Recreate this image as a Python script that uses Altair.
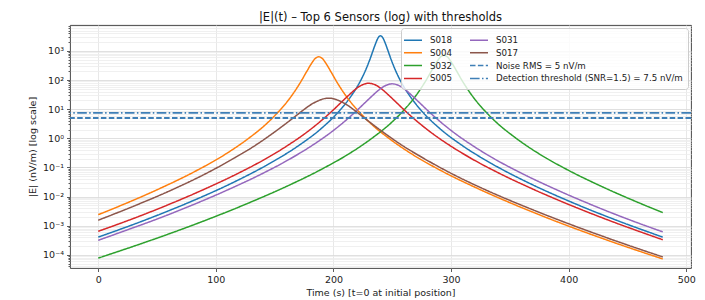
import altair as alt
import pandas as pd

# ---------------- data ----------------
S018_t = [0, 40, 80, 115, 145, 170, 190, 205, 215, 222, 227, 231, 234, 236, 238, 240, 242, 244, 246, 249, 253, 258, 265, 275, 290, 310, 335, 365, 400, 440, 480]
S018_v = [4.07e-4, 1.58e-3, 7.08e-3, 0.0309, 0.132, 0.550, 2.24, 8.71, 28.2, 79.4, 204, 513, 1122, 1862, 2818, 3311, 2818, 1862, 1122, 513, 204, 79.4, 28.2, 8.71, 2.24, 0.550, 0.132, 0.0309, 7.08e-3, 1.58e-3, 4.07e-4]

S004_t = [0, 22.5, 52.5, 82.5, 107.5, 127.5, 142.5, 152.5, 160.5, 167.5, 172.5, 177.5, 181.5, 184.5, 187.5, 190.5, 193.5, 197.5, 202.5, 207.5, 214.5, 222.5, 232.5, 247.5, 267.5, 292.5, 322.5, 352.5, 387.5, 437.5, 480]
S004_v = [2.40e-3, 5.62e-3, 0.0191, 0.0741, 0.275, 0.977, 3.02, 7.59, 17.8, 43.7, 91.2, 204, 380, 550, 631, 550, 380, 204, 91.2, 43.7, 17.8, 7.59, 3.02, 0.977, 0.275, 0.0741, 0.0191, 5.62e-3, 1.51e-3, 2.75e-4, 7.24e-5]

S032_t = [0, 44, 79, 94, 129, 159, 189, 214, 234, 249, 259, 267, 274, 279, 284, 288, 291, 294, 297, 300, 304, 309, 314, 321, 329, 339, 354, 374, 399, 429, 459, 480]
S032_v = [7.76e-5, 3.09e-4, 1.0e-3, 1.70e-3, 6.31e-3, 0.0214, 0.0832, 0.309, 1.10, 3.39, 8.51, 20.0, 49.0, 102, 229, 427, 617, 708, 617, 427, 229, 102, 49.0, 20.0, 8.51, 3.39, 1.10, 0.309, 0.0832, 0.0214, 6.31e-3, 2.82e-3]

S005_t = [0, 30, 60, 90, 118, 142, 162, 178, 190, 200, 207, 213, 218, 222, 226, 230, 234, 238, 242, 247, 253, 260, 270, 282, 298, 318, 342, 370, 400, 430, 480]
S005_v = [6.46e-4, 1.78e-3, 5.37e-3, 0.0178, 0.0603, 0.195, 0.603, 1.70, 4.17, 9.55, 17.8, 30.2, 45.7, 60.3, 72.4, 77.6, 72.4, 60.3, 45.7, 30.2, 17.8, 9.55, 4.17, 1.70, 0.603, 0.195, 0.0603, 0.0178, 5.37e-3, 1.78e-3, 3.31e-4]

S031_t = [0, 20, 50, 80, 110, 138, 162, 182, 198, 210, 220, 227, 233, 238, 242, 246, 250, 254, 258, 262, 267, 273, 280, 290, 302, 318, 338, 362, 390, 420, 450, 480]
S031_v = [3.16e-4, 6.17e-4, 1.70e-3, 5.13e-3, 0.0170, 0.0575, 0.186, 0.575, 1.62, 3.98, 9.12, 17.0, 28.8, 43.7, 57.5, 69.2, 74.1, 69.2, 57.5, 43.7, 28.8, 17.0, 9.12, 3.98, 1.62, 0.575, 0.186, 0.0575, 0.0170, 5.13e-3, 1.70e-3, 6.17e-4]

S017_t = [0, 30, 62, 92, 116, 134, 148, 159, 168, 175, 181, 186, 191, 196, 201, 206, 211, 217, 224, 233, 244, 258, 276, 300, 330, 362, 400, 440, 480]
S017_v = [1.55e-3, 4.68e-3, 0.0166, 0.0631, 0.214, 0.589, 1.45, 3.09, 5.89, 9.77, 14.5, 18.6, 22.4, 24.0, 22.4, 18.6, 14.5, 9.77, 5.89, 3.09, 1.45, 0.589, 0.214, 0.0631, 0.0166, 4.68e-3, 1.17e-3, 3.02e-4, 8.51e-5]

sensor_names = ["S018", "S004", "S032", "S005", "S031", "S017"]
sensor_series = [(S018_t, S018_v), (S004_t, S004_v), (S032_t, S032_v),
                 (S005_t, S005_v), (S031_t, S031_v), (S017_t, S017_v)]

noise_label = "Noise RMS = 5 nV/m"
detect_label = "Detection threshold (SNR=1.5) = 7.5 nV/m"
threshold_labels = [noise_label, detect_label]
threshold_values = [5.0, 7.5]

x_ticks = [0, 100, 200, 300, 400, 500]

# ---------------- styling ----------------
color_of = {"S018": "#1f77b4", "S004": "#ff7f0e", "S032": "#2ca02c", "S005": "#d62728",
            "S031": "#9467bd", "S017": "#8c564b", noise_label: "#3f7fb6", detect_label: "#3f7fb6"}
dash_of = {"S018": [1, 0], "S004": [1, 0], "S032": [1, 0], "S005": [1, 0],
           "S031": [1, 0], "S017": [1, 0], noise_label: [5.5, 2.4], detect_label: [9.6, 2.4, 1.5, 2.4]}

legend_order = sensor_names + threshold_labels
legend_colors = [color_of[k] for k in legend_order]
legend_dashes = [dash_of[k] for k in legend_order]

rows = []
for name, (ts, vs) in zip(sensor_names, sensor_series):
    for t, v in zip(ts, vs):
        rows.append({"label": name, "t": t, "v": v})
lines_df = pd.DataFrame(rows)
thr_df = pd.DataFrame({"label": threshold_labels, "v": threshold_values})

y_min, y_max = 3.55e-5, 7760
y_ticks = []
for k in range(-5, 4):
    for m in range(1, 10):
        val = m * 10.0 ** k
        if y_min <= val <= y_max:
            y_ticks.append(val)

is_major = "abs(log(datum.value)/LN10 - round(log(datum.value)/LN10)) < 0.001"
sup = "['\u2070','\u00b9','\u00b2','\u00b3','\u2074','\u2075','\u2076','\u2077','\u2078','\u2079']"
label_expr = ("(" + is_major + ") ? ('10' + (round(log(datum.value)/LN10) < 0 ? '\u207b' : '') + "
              + sup + "[abs(round(log(datum.value)/LN10))]) : ''")

x_enc = alt.X("t:Q", scale=alt.Scale(domain=[-24, 504], nice=False, zero=False),
              axis=alt.Axis(values=x_ticks, title="Time (s) [t=0 at initial position]",
                            grid=True, gridColor="#e2e2e2", gridWidth=0.8,
                            tickSize=3.5, labelPadding=3, titlePadding=3, domain=False))
y_enc = alt.Y("v:Q", scale=alt.Scale(type="log", domain=[y_min, y_max], nice=False),
              axis=alt.Axis(values=y_ticks, title="|E| (nV/m) [log scale]",
                            labelExpr=label_expr, labelOverlap=False, domain=False,
                            grid=True,
                            gridColor={"condition": {"test": is_major, "value": "#d8d8d8"}, "value": "#ececec"},
                            gridWidth=0.8,
                            tickSize={"condition": {"test": is_major, "value": 3.5}, "value": 2},
                            labelPadding=3, titlePadding=5))

legend = alt.Legend(title=None, orient="top-right", offset=3, columns=2,
                    symbolType="M-1.5,0H1.5", symbolSize=144, symbolStrokeWidth=1.5,
                    labelOffset=10, labelFontSize=8.7, labelFont="DejaVu Sans", labelColor="#222",
                    labelLimit=400, rowPadding=0.8, columnPadding=14, padding=5,
                    fillColor="rgba(255,255,255,0.8)", strokeColor="#cccccc", cornerRadius=3)

color_enc = alt.Color("label:N", scale=alt.Scale(domain=legend_order, range=legend_colors), legend=legend)
dash_enc = alt.StrokeDash("label:N", scale=alt.Scale(domain=legend_order, range=legend_dashes), legend=legend)

lines = alt.Chart(lines_df).mark_line(strokeWidth=1.5, interpolate="monotone", clip=True).encode(
    x=x_enc, y=y_enc, color=color_enc, strokeDash=dash_enc, order=alt.Order("t:Q"))

rules = alt.Chart(thr_df).mark_rule(strokeWidth=1.8).encode(
    y=alt.Y("v:Q"), color=color_enc, strokeDash=dash_enc)

chart = alt.layer(lines, rules).properties(
    width=621, height=243,
    autosize=alt.AutoSizeParams(type="none"),
    padding={"left": 62, "top": 17, "right": 6, "bottom": 31},
    title=alt.TitleParams("|E|(t) \u2013 Top 6 Sensors (log) with thresholds", fontSize=11.5,
                          font="DejaVu Sans", fontWeight="normal", color="#111", anchor="middle", offset=-2),
).configure(font="DejaVu Sans").configure_view(
    stroke="#333333", strokeWidth=0.9
).configure_axis(
    labelFont="DejaVu Sans", titleFont="DejaVu Sans", labelFontSize=9.5, titleFontSize=9.5,
    labelColor="#222", titleColor="#222", titleFontWeight="normal",
    tickColor="#333", tickWidth=0.8
)

chart.save("out.html", embed_options={"renderer": "svg", "actions": False})
